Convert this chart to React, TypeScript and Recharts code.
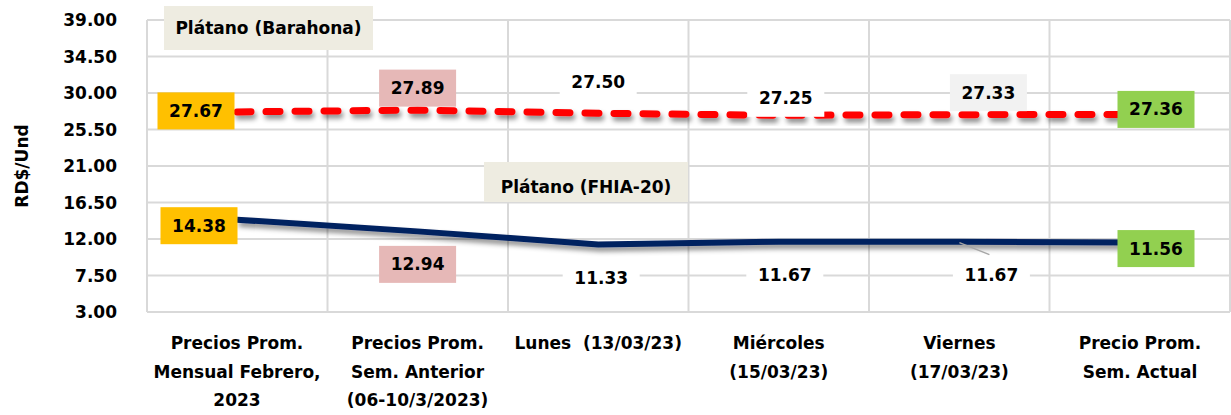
import { LineChart, Line, XAxis, YAxis, CartesianGrid, LabelList } from "recharts";

const categoryLines = [
  ["Precios Prom.", "Mensual Febrero,", "2023"],
  ["Precios Prom.", "Sem. Anterior", "(06-10/3/2023)"],
  ["Lunes  (13/03/23)"],
  ["Miércoles", "(15/03/23)"],
  ["Viernes", "(17/03/23)"],
  ["Precio Prom.", "Sem. Actual"],
];
const barahona = [27.67, 27.89, 27.5, 27.25, 27.33, 27.36];
const fhia = [14.38, 12.94, 11.33, 11.67, 11.67, 11.56];
const yTicks = [3, 7.5, 12, 16.5, 21, 25.5, 30, 34.5, 39];

// label placement relative to the point, per index
const barahonaLabels = [
  { dx: -41, dy: -1, fill: "#FFC000" },
  { dx: 0, dy: -22, fill: "#E6B8B7" },
  { dx: 0, dy: -31, fill: "#FFFFFF" },
  { dx: 7, dy: -17, fill: "#FFFFFF" },
  { dx: 29, dy: -22, fill: "#F2F2F2" },
  { dx: 16, dy: -5, fill: "#92D050" },
];
const fhiaLabels = [
  { dx: -38, dy: 6, fill: "#FFC000" },
  { dx: 0, dy: 33, fill: "#E6B8B7" },
  { dx: 3, dy: 34, fill: "#FFFFFF" },
  { dx: 6, dy: 33, fill: "#FFFFFF" },
  { dx: 32, dy: 33, fill: "#FFFFFF", leader: true },
  { dx: 16, dy: 6, fill: "#92D050" },
];

const data = categoryLines.map((lines, i) => ({
  name: lines.join(" "),
  barahona: barahona[i],
  fhia: fhia[i],
}));

const FONT = "'DejaVu Sans', sans-serif";

function makeLabel(styles: { dx: number; dy: number; fill: string; leader?: boolean }[]) {
  return (props: any) => {
    const { x, y, value, index } = props;
    const s = styles[index];
    const cx = x + s.dx;
    const cy = y + s.dy;
    const w = 77;
    const h = 37;
    return (
      <g>
        {s.leader && <line x1={x} y1={y + 1} x2={cx - 2} y2={cy - 20} stroke="#A6A6A6" strokeWidth={1.5} />}
        <rect x={cx - w / 2} y={cy - h / 2} width={w} height={h} fill={s.fill} />
        <text
          x={cx}
          y={cy + 6}
          textAnchor="middle"
          fontFamily={FONT}
          fontWeight={700}
          fontSize={17}
          fill="#000"
        >
          {Number(value).toFixed(2)}
        </text>
      </g>
    );
  };
}

function CategoryTick(props: any) {
  const { x, y, index } = props;
  const lines = categoryLines[index] || [];
  return (
    <text
      x={x}
      y={y}
      textAnchor="middle"
      fontFamily={FONT}
      fontWeight={700}
      fontSize={17}
      fill="#000"
      style={{ whiteSpace: "pre" }}
    >
      {lines.map((l, i) => (
        <tspan key={i} x={x} y={y + 29 + i * 28.5}>
          {l}
        </tspan>
      ))}
    </text>
  );
}

const boxStyle = {
  position: "absolute" as const,
  background: "#EEECE1",
  fontFamily: FONT,
  fontWeight: 700,
  fontSize: 17,
  color: "#000",
  display: "flex",
  alignItems: "center",
  justifyContent: "center",
};

export default function App() {
  return (
    <div style={{ position: "absolute", left: 0, top: 0, width: 1231, height: 415, background: "#fff" }}>
      <LineChart width={1231} height={415} data={data} margin={{ top: 20, right: 1, left: 0, bottom: 0 }}>
        <defs>
          <filter id="lineShadow" x="-5%" y="-200%" width="110%" height="500%">
            <feDropShadow dx="2" dy="4" stdDeviation="2.5" floodColor="#000" floodOpacity="0.45" />
          </filter>
        </defs>
        <CartesianGrid
          stroke="#D9D9D9"
          strokeWidth={2}
          verticalCoordinatesGenerator={({ offset }: any) =>
            Array.from({ length: 7 }, (_, i) => offset.left + (i * offset.width) / 6)
          }
        />
        <XAxis
          dataKey="name"
          interval={0}
          padding={{ left: 90, right: 90 }}
          tick={<CategoryTick />}
          tickLine={false}
          axisLine={{ stroke: "#D9D9D9", strokeWidth: 2 }}
          height={103}
        />
        <YAxis
          domain={[3, 39]}
          ticks={yTicks}
          interval={0}
          width={147}
          tickSize={0}
          tickMargin={30}
          axisLine={false}
          tickFormatter={(v: number) => v.toFixed(2)}
          tick={{ fontFamily: FONT, fontWeight: 700, fontSize: 17, fill: "#000" }}
          label={{
            value: "RD$/Und",
            angle: -90,
            position: "insideLeft",
            offset: 22,
            style: { fontFamily: FONT, fontWeight: 700, fontSize: 17, fill: "#000", textAnchor: "middle" },
          }}
        />
        <Line
          dataKey="barahona"
          stroke="#FF0000"
          strokeWidth={7}
          strokeDasharray="14 15"
          strokeLinecap="round"
          dot={false}
          activeDot={false}
          filter="url(#lineShadow)"
          isAnimationActive={false}
        >
          <LabelList dataKey="barahona" content={makeLabel(barahonaLabels)} />
        </Line>
        <Line
          dataKey="fhia"
          stroke="#002060"
          strokeWidth={6}
          dot={false}
          activeDot={false}
          filter="url(#lineShadow)"
          isAnimationActive={false}
        >
          <LabelList dataKey="fhia" content={makeLabel(fhiaLabels)} />
        </Line>
      </LineChart>
      <div style={{ ...boxStyle, left: 164, top: 6, width: 209, height: 44 }}>Plátano (Barahona)</div>
      <div style={{ ...boxStyle, left: 484, top: 162, width: 204, height: 40, paddingTop: 10, boxSizing: "border-box" }}>
        Plátano (FHIA-20)
      </div>
    </div>
  );
}
